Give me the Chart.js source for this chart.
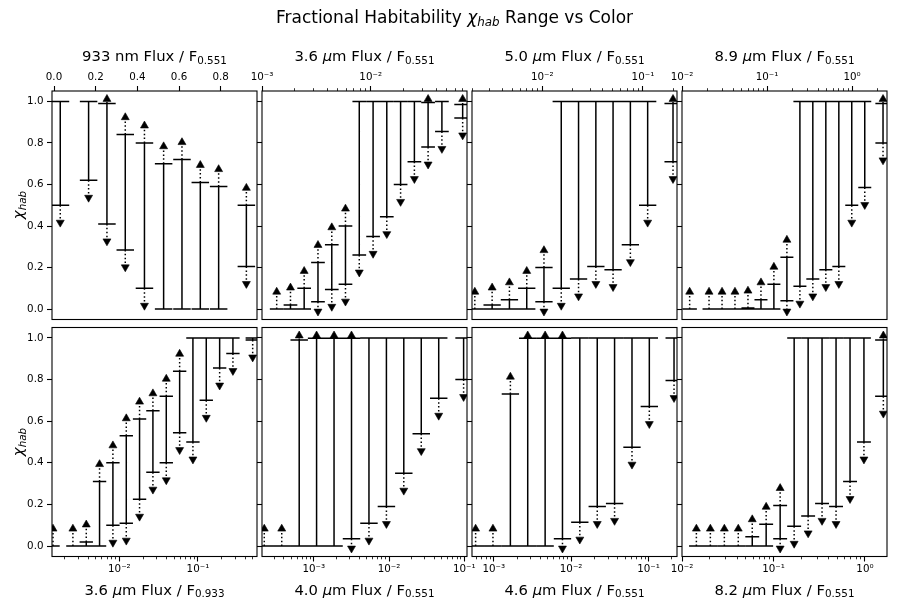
<!DOCTYPE html>
<html><head><meta charset="utf-8">
<script src="https://cdn.jsdelivr.net/npm/chart.js@4.4.1/dist/chart.umd.min.js"></script>
<style>
html,body{margin:0;padding:0;background:#fff;}
#fig{position:relative;width:899px;height:605px;overflow:hidden;background:#fff;font-family:'DejaVu Sans',sans-serif;color:#000;}
#fig canvas{position:absolute;left:0;top:0;}
.lbl{position:absolute;white-space:nowrap;font-size:14.8px;line-height:18px;}
.ttl{position:absolute;white-space:nowrap;font-size:17px;line-height:20px;}
.sub{font-size:0.7em;position:relative;top:0.27em;}
</style></head><body><div id="fig"></div>
<script>
// ---------- text ----------
const figTitle = 'Fractional Habitability <i>χ<span class="sub">hab</span></i> Range vs Color';
const yLabel = '<i>χ<span class="sub">hab</span></i>';
const panelLabels = [
  '933 nm Flux / F<span class="sub">0.551</span>',
  '3.6 <i>μ</i>m Flux / F<span class="sub">0.551</span>',
  '5.0 <i>μ</i>m Flux / F<span class="sub">0.551</span>',
  '8.9 <i>μ</i>m Flux / F<span class="sub">0.551</span>',
  '3.6 <i>μ</i>m Flux / F<span class="sub">0.933</span>',
  '4.0 <i>μ</i>m Flux / F<span class="sub">0.551</span>',
  '4.6 <i>μ</i>m Flux / F<span class="sub">0.551</span>',
  '8.2 <i>μ</i>m Flux / F<span class="sub">0.551</span>'
];
const yTickValues = [0.0, 0.2, 0.4, 0.6, 0.8, 1.0];
const p1TickValues = [0.0, 0.2, 0.4, 0.6, 0.8];

// ---------- data: bin centre, bin half-width (linear or dex), low / high chi_hab ----------
const p1X  = [0.030, 0.166, 0.254, 0.342, 0.434, 0.526, 0.614, 0.702, 0.790, 0.923];
const p1W  = [0.043, 0.042, 0.042, 0.042, 0.042, 0.042, 0.042, 0.042, 0.042, 0.042];
const p1Hi = [1.00, 1.00, 0.99, 0.84, 0.80, 0.70, 0.72, 0.61, 0.59, 0.50];
const p1Lo = [0.50, 0.62, 0.41, 0.285, 0.10, 0.00, 0.00, 0.00, 0.00, 0.205];
const p1Range = [-0.0096, 0.974];

const p2X  = [1.365e-3, 1.828e-3, 2.443e-3, 3.273e-3, 4.385e-3, 5.861e-3, 7.852e-3, 0.01052, 0.01406, 0.01884, 0.02523, 0.03373, 0.04519, 0.07015];
const p2W  = [0.063, 0.063, 0.063, 0.063, 0.063, 0.063, 0.063, 0.063, 0.063, 0.063, 0.063, 0.063, 0.063, 0.077];
const p2Hi = [0.00, 0.02, 0.10, 0.225, 0.31, 0.40, 1.00, 1.00, 1.00, 1.00, 1.00, 0.995, 1.00, 0.985];
const p2Lo = [0.00, 0.00, 0.00, 0.035, 0.095, 0.12, 0.26, 0.35, 0.445, 0.60, 0.71, 0.78, 0.855, 0.92];
const p2Range = [1.0e-3, 0.0769];

const p3X  = [2.133e-3, 3.170e-3, 4.71e-3, 7.0e-3, 0.01038, 0.01542, 0.02291, 0.03404, 0.05047, 0.0750, 0.1114, 0.199];
const p3W  = [0.086, 0.086, 0.086, 0.086, 0.086, 0.086, 0.086, 0.086, 0.086, 0.086, 0.086, 0.085];
const p3Hi = [0.00, 0.02, 0.045, 0.10, 0.20, 1.00, 1.00, 1.00, 1.00, 1.00, 1.00, 0.99];
const p3Lo = [0.00, 0.00, 0.00, 0.00, 0.035, 0.10, 0.145, 0.205, 0.19, 0.31, 0.50, 0.71];
const p3Range = [2.0e-3, 0.218];

const p4X  = [0.01230, 0.02080, 0.02958, 0.04198, 0.05970, 0.08492, 0.1205, 0.1714, 0.2438, 0.3459, 0.4920, 0.6998, 0.9931, 1.4125, 2.317];
const p4W  = [0.085, 0.0765, 0.0765, 0.0765, 0.0765, 0.0765, 0.0765, 0.0765, 0.0765, 0.0765, 0.0765, 0.0765, 0.0765, 0.0765, 0.09];
const p4Hi = [0.00, 0.00, 0.00, 0.00, 0.005, 0.045, 0.12, 0.25, 1.00, 1.00, 1.00, 1.00, 1.00, 1.00, 0.99];
const p4Lo = [0.00, 0.00, 0.00, 0.00, 0.00, 0.00, 0.00, 0.04, 0.11, 0.145, 0.19, 0.205, 0.50, 0.585, 0.80];
const p4Range = [0.01, 2.58];

const p5X  = [1.432e-3, 2.564e-3, 3.793e-3, 5.598e-3, 8.279e-3, 0.01225, 0.01807, 0.02673, 0.03954, 0.05848, 0.08630, 0.1276, 0.1888, 0.2786, 0.497];
const p5W  = [0.085, 0.085, 0.085, 0.085, 0.085, 0.085, 0.085, 0.085, 0.085, 0.085, 0.085, 0.085, 0.085, 0.085, 0.09];
const p5Hi = [0.00, 0.00, 0.02, 0.31, 0.40, 0.53, 0.61, 0.65, 0.72, 0.84, 1.00, 1.00, 1.00, 1.00, 1.00];
const p5Lo = [0.00, 0.00, 0.00, 0.00, 0.10, 0.11, 0.225, 0.355, 0.40, 0.545, 0.50, 0.70, 0.855, 0.925, 0.99];
const p5Range = [1.39e-3, 0.564];

const p6X  = [2.198e-4, 3.750e-4, 6.40e-4, 1.089e-3, 1.858e-3, 3.170e-3, 5.408e-3, 9.226e-3, 0.01570, 0.02679, 0.04571, 0.0979];
const p6W  = [0.116, 0.116, 0.116, 0.116, 0.116, 0.116, 0.116, 0.116, 0.116, 0.116, 0.116, 0.11];
const p6Hi = [0.00, 0.00, 0.99, 0.998, 0.998, 0.998, 1.00, 1.00, 1.00, 1.00, 1.00, 1.00];
const p6Lo = [0.00, 0.00, 0.00, 0.00, 0.00, 0.035, 0.11, 0.19, 0.35, 0.54, 0.71, 0.80];
const p6Range = [2.05e-4, 0.1086];

const p7X  = [5.834e-4, 9.772e-4, 1.641e-3, 2.748e-3, 4.613e-3, 7.727e-3, 0.01294, 0.02173, 0.03639, 0.06109, 0.1023, 0.2133];
const p7W  = [0.112, 0.112, 0.112, 0.112, 0.112, 0.112, 0.112, 0.112, 0.112, 0.112, 0.112, 0.11];
const p7Hi = [0.00, 0.00, 0.73, 0.998, 0.998, 0.998, 1.00, 1.00, 1.00, 1.00, 1.00, 1.00];
const p7Lo = [0.00, 0.00, 0.00, 0.00, 0.00, 0.035, 0.115, 0.19, 0.205, 0.475, 0.67, 0.795];
const p7Range = [5.24e-4, 0.233];

const p8X  = [0.01436, 0.02042, 0.02904, 0.04121, 0.05861, 0.08318, 0.1183, 0.1683, 0.2393, 0.3396, 0.4831, 0.6871, 0.9750, 1.589];
const p8W  = [0.08, 0.076, 0.076, 0.076, 0.076, 0.076, 0.076, 0.076, 0.076, 0.076, 0.076, 0.076, 0.076, 0.09];
const p8Hi = [0.00, 0.00, 0.00, 0.00, 0.045, 0.105, 0.195, 1.00, 1.00, 1.00, 1.00, 1.00, 1.00, 0.99];
const p8Lo = [0.00, 0.00, 0.00, 0.00, 0.00, 0.00, 0.035, 0.095, 0.145, 0.205, 0.19, 0.31, 0.50, 0.72];
const p8Range = [0.01, 1.742];

const Y_RANGE = [-0.05, 1.05];

const panels = [
  {x:p1X, w:p1W, hi:p1Hi, lo:p1Lo, range:p1Range, log:false, row:0, col:0},
  {x:p2X, w:p2W, hi:p2Hi, lo:p2Lo, range:p2Range, log:true,  row:0, col:1},
  {x:p3X, w:p3W, hi:p3Hi, lo:p3Lo, range:p3Range, log:true,  row:0, col:2},
  {x:p4X, w:p4W, hi:p4Hi, lo:p4Lo, range:p4Range, log:true,  row:0, col:3},
  {x:p5X, w:p5W, hi:p5Hi, lo:p5Lo, range:p5Range, log:true,  row:1, col:0},
  {x:p6X, w:p6W, hi:p6Hi, lo:p6Lo, range:p6Range, log:true,  row:1, col:1},
  {x:p7X, w:p7W, hi:p7Hi, lo:p7Lo, range:p7Range, log:true,  row:1, col:2},
  {x:p8X, w:p8W, hi:p8Hi, lo:p8Lo, range:p8Range, log:true,  row:1, col:3}
];

// ---------- layout / style ----------
const FIG_W = 899, FIG_H = 605;
const COL_L = [52, 262, 472, 682], PW = 205;
const ROW_T = [91, 327.5], PH = [228.5, 229];
const AX_H = 36, AX_W = 40;   // room reserved for tick labels
const ARROW = 0.072, TRI_R = 4.6;
const tickFont = {family:'DejaVu Sans', size:10.3};
Chart.defaults.font.family = 'DejaVu Sans';
Chart.defaults.color = '#000';

const fig = document.getElementById('fig');
function addText(cls, html, css) {
  const d = document.createElement('div');
  d.className = cls; d.innerHTML = html;
  Object.assign(d.style, css);
  fig.appendChild(d);
  return d;
}

const SUP = {'-':'⁻','0':'⁰','1':'¹','2':'²','3':'³','4':'⁴','5':'⁵','6':'⁶','7':'⁷','8':'⁸','9':'⁹'};
function fmtLog(v) {
  const e = Math.round(Math.log10(v));
  return '10' + String(e).split('').map(c => SUP[c]).join('');
}
function logTicks(min, max, subs) {
  const out = [];
  for (let e = Math.floor(Math.log10(min)) - 1; e <= Math.ceil(Math.log10(max)); e++) {
    for (const s of subs) {
      const v = s * Math.pow(10, e);
      if (v >= min * 0.9999 && v <= max * 1.0001) out.push(v);
    }
  }
  return out;
}

const framePlugin = {
  id: 'frame',
  afterDraw(chart) {
    const a = chart.chartArea, ctx = chart.ctx;
    ctx.save();
    ctx.strokeStyle = '#000';
    ctx.lineWidth = 1.1;
    ctx.strokeRect(a.left, a.top, a.right - a.left, a.bottom - a.top);
    ctx.restore();
  }
};

function lineDs(data, dash) {
  return {data, showLine:true, borderColor:'#000', borderWidth:1.5, borderDash:dash || [],
          pointRadius:0, pointHoverRadius:0, spanGaps:false, tension:0, clip:0, fill:false};
}
function triDs(data, rot) {
  return {data, showLine:false, pointStyle:'triangle', pointRadius:TRI_R, pointHoverRadius:TRI_R,
          pointRotation:rot, pointBackgroundColor:'#000', pointBorderColor:'#000', pointBorderWidth:0.6, clip:0};
}

panels.forEach((p, idx) => {
  const L = COL_L[p.col], T = ROW_T[p.row], R = L + PW, B = T + PH[p.row];
  const pxPerUnit = PH[p.row] / (Y_RANGE[1] - Y_RANGE[0]);
  const triOff = (TRI_R / 2) / pxPerUnit;
  const edges = (c, w) => p.log ? [c / Math.pow(10, w), c * Math.pow(10, w)] : [c - w, c + w];
  const gap = c => ({x:c, y:null});
  const vl = [], caps = [], dots = [], upT = [], dnT = [];
  p.x.forEach((c, i) => {
    const lo = p.lo[i], hi = p.hi[i];
    const [l, r] = edges(c, p.w[i]);
    if (hi > lo) vl.push({x:c, y:lo}, {x:c, y:hi}, gap(c));
    caps.push({x:l, y:hi}, {x:r, y:hi}, gap(r));
    if (hi !== lo) caps.push({x:l, y:lo}, {x:r, y:lo}, gap(r));
    if (hi < 1) {
      const e = Math.min(hi + ARROW, 1);
      dots.push({x:c, y:hi}, {x:c, y:e}, gap(c));
      upT.push({x:c, y:e + triOff});
    }
    if (lo > 0) {
      const e = Math.max(lo - ARROW, 0);
      dots.push({x:c, y:lo}, {x:c, y:e}, gap(c));
      dnT.push({x:c, y:e - triOff});
    }
  });

  const pos = p.row === 0 ? 'top' : 'bottom';
  const majors = p.log ? logTicks(p.range[0], p.range[1], [1]) : p1TickValues;
  const scales = {
    x: {
      type: p.log ? 'logarithmic' : 'linear', axis:'x', position: pos, weight: 2,
      min: p.range[0], max: p.range[1],
      afterBuildTicks: s => { s.ticks = majors.map(v => ({value:v})); },
      afterFit: s => { s.height = AX_H; },
      grid: {display:true, drawOnChartArea:false, drawTicks:true, tickLength:5, color:'#000', tickColor:'#000', tickWidth:1.1},
      border: {display:false},
      ticks: {autoSkip:false, maxRotation:0, minRotation:0, padding:2, color:'#000', font:tickFont,
              callback: v => p.log ? fmtLog(v) : Number(v).toFixed(1)}
    },
    y: {
      type:'linear', position:'left', min:Y_RANGE[0], max:Y_RANGE[1],
      afterBuildTicks: s => { s.ticks = yTickValues.map(v => ({value:v})); },
      afterFit: s => { s.width = AX_W; },
      grid: {display:true, drawOnChartArea:false, drawTicks:true, tickLength:5, color:'#000', tickColor:'#000', tickWidth:1.1},
      border: {display:false},
      ticks: {autoSkip:false, padding:3.5, color:'#000', font:tickFont,
              callback: v => p.col === 0 ? Number(v).toFixed(1) : ''}
    }
  };
  if (p.log) {
    const minors = logTicks(p.range[0], p.range[1], [2,3,4,5,6,7,8,9]);
    scales.xm = {
      type:'logarithmic', axis:'x', position: pos, weight: 0, min: p.range[0], max: p.range[1],
      afterBuildTicks: s => { s.ticks = minors.map(v => ({value:v})); },
      afterFit: s => { s.height = 0; },
      grid: {display:true, drawOnChartArea:false, drawTicks:true, tickLength:2.8, color:'#000', tickColor:'#000', tickWidth:0.8},
      border: {display:false},
      ticks: {autoSkip:false, maxRotation:0, minRotation:0, padding:0, font:tickFont, callback: () => ''}
    };
  }

  const pad = {left: L - AX_W, right: FIG_W - R,
               top: p.row === 0 ? T - AX_H : T,
               bottom: p.row === 0 ? FIG_H - B : FIG_H - B - AX_H};

  const canvas = document.createElement('canvas');
  canvas.width = FIG_W; canvas.height = FIG_H;
  canvas.style.width = FIG_W + 'px'; canvas.style.height = FIG_H + 'px';
  fig.appendChild(canvas);
  new Chart(canvas, {
    type: 'scatter',
    data: {datasets: [lineDs(vl), lineDs(caps), lineDs(dots, [1.5, 2.4]), triDs(upT, 0), triDs(dnT, 180)]},
    options: {
      responsive:false, animation:false, events:[],
      layout: {padding: pad},
      plugins: {legend:{display:false}, tooltip:{enabled:false}, title:{display:false}},
      scales
    },
    plugins: [framePlugin]
  });

  // axis label text
  const cx = L + PW / 2;
  if (p.row === 0) addText('lbl', panelLabels[idx], {left: cx + 'px', top: '47px', transform:'translateX(-50%)'});
  else addText('lbl', panelLabels[idx], {left: cx + 'px', top: '580.5px', transform:'translateX(-50%)'});
  if (p.col === 0) addText('lbl', yLabel, {left:'17.5px', top:(T + PH[p.row] / 2) + 'px', transform:'translate(-50%,-50%) rotate(-90deg)'});
});

addText('ttl', figTitle, {left:'454.5px', top:'6.5px', transform:'translateX(-50%)'});
</script></body></html>
